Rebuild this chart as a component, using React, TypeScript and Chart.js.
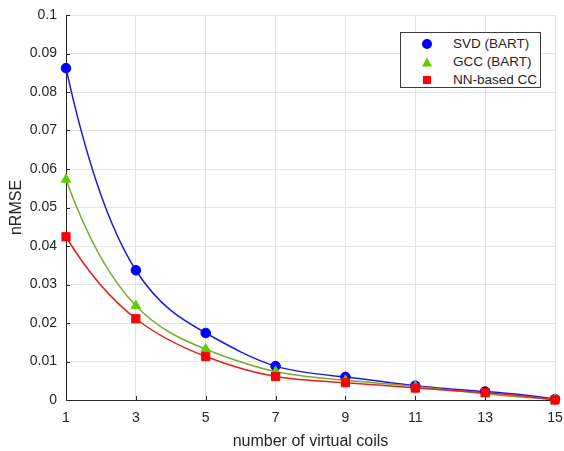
import React, { useEffect, useRef } from "react";
import { Chart, registerables } from "chart.js";

Chart.register(...registerables);

const coils = [1, 3, 5, 7, 9, 11, 13, 15];
const svdBart = [0.0862, 0.0337, 0.0174, 0.0088, 0.006, 0.0037, 0.0022, 0.0002];
const gccBart = [0.0573, 0.0245, 0.0132, 0.0074, 0.0051, 0.0035, 0.0016, 0.0002];
const nnCC = [0.0424, 0.0211, 0.0113, 0.0061, 0.0045, 0.0031, 0.0019, 0.0];
const xTicks = [1, 3, 5, 7, 9, 11, 13, 15];
const yTicks = [0, 0.01, 0.02, 0.03, 0.04, 0.05, 0.06, 0.07, 0.08, 0.09, 0.1];
const seriesNames = ["SVD (BART)", "GCC (BART)", "NN-based CC"];
const lineColors = ["#1a1ae0", "#77ac30", "#e82020"];
const markerColors = ["#0000ff", "#5fcc00", "#ff0000"];

const FONT = "'Liberation Sans', Arial, Helvetica, sans-serif";
const TEXT = "#262626";

// not-a-knot cubic spline second derivatives
function splineM(xs: number[], ys: number[]): number[] {
  const n = xs.length;
  const A: number[][] = [];
  const b: number[] = [];
  for (let r = 0; r < n; r++) { A.push(new Array(n).fill(0)); b.push(0); }
  for (let i = 1; i < n - 1; i++) {
    const h0 = xs[i] - xs[i - 1];
    const h1 = xs[i + 1] - xs[i];
    A[i][i - 1] = h0;
    A[i][i] = 2 * (h0 + h1);
    A[i][i + 1] = h1;
    b[i] = 6 * ((ys[i + 1] - ys[i]) / h1 - (ys[i] - ys[i - 1]) / h0);
  }
  A[0][0] = 1; A[0][1] = -2; A[0][2] = 1; b[0] = 0;
  A[n - 1][n - 3] = 1; A[n - 1][n - 2] = -2; A[n - 1][n - 1] = 1; b[n - 1] = 0;
  for (let c = 0; c < n; c++) {
    let p = c;
    for (let r = c + 1; r < n; r++) if (Math.abs(A[r][c]) > Math.abs(A[p][c])) p = r;
    [A[c], A[p]] = [A[p], A[c]];
    [b[c], b[p]] = [b[p], b[c]];
    for (let r = c + 1; r < n; r++) {
      const f = A[r][c] / A[c][c];
      for (let k = c; k < n; k++) A[r][k] -= f * A[c][k];
      b[r] -= f * b[c];
    }
  }
  const M = new Array(n).fill(0);
  for (let r = n - 1; r >= 0; r--) {
    let s = b[r];
    for (let k = r + 1; k < n; k++) s -= A[r][k] * M[k];
    M[r] = s / A[r][r];
  }
  return M;
}

const splineLines = {
  id: "splineLines",
  beforeDatasetsDraw(chart: any) {
    const { ctx, scales } = chart;
    const sx = scales.x, sy = scales.y;
    const series = [svdBart, gccBart, nnCC];
    ctx.save();
    ctx.lineWidth = 1.5;
    ctx.lineJoin = "round";
    series.forEach((ys, si) => {
      const M = splineM(coils, ys);
      ctx.strokeStyle = lineColors[si];
      ctx.beginPath();
      ctx.moveTo(sx.getPixelForValue(coils[0]), sy.getPixelForValue(ys[0]));
      for (let i = 0; i < coils.length - 1; i++) {
        const h = coils[i + 1] - coils[i];
        const d = (ys[i + 1] - ys[i]) / h;
        const m0 = d - (h * (2 * M[i] + M[i + 1])) / 6;
        const m1 = d + (h * (M[i] + 2 * M[i + 1])) / 6;
        const c1x = coils[i] + h / 3, c1y = ys[i] + (m0 * h) / 3;
        const c2x = coils[i + 1] - h / 3, c2y = ys[i + 1] - (m1 * h) / 3;
        ctx.bezierCurveTo(
          sx.getPixelForValue(c1x), sy.getPixelForValue(c1y),
          sx.getPixelForValue(c2x), sy.getPixelForValue(c2y),
          sx.getPixelForValue(coils[i + 1]), sy.getPixelForValue(ys[i + 1])
        );
      }
      ctx.stroke();
    });
    ctx.restore();
  },
};

const innerTicks = {
  id: "innerTicks",
  afterDatasetsDraw(chart: any) {
    const { ctx, chartArea, scales } = chart;
    ctx.save();
    ctx.strokeStyle = TEXT;
    ctx.lineWidth = 1;
    ctx.beginPath();
    for (const v of xTicks) {
      const x = Math.round(scales.x.getPixelForValue(v)) + 0.5;
      ctx.moveTo(x, chartArea.bottom);
      ctx.lineTo(x, chartArea.bottom - 4);
    }
    for (const v of yTicks) {
      const y = Math.round(scales.y.getPixelForValue(v)) + 0.5;
      ctx.moveTo(chartArea.left, y);
      ctx.lineTo(chartArea.left + 4, y);
    }
    ctx.stroke();
    ctx.restore();
  },
};

function toPts(vals: number[]) {
  return vals.map((v, i) => ({ x: coils[i], y: v }));
}

export default function App() {
  const ref = useRef<HTMLCanvasElement>(null);
  useEffect(() => {
    if (!ref.current) return;
    const styles = ["circle", "triangle", "rect"];
    const radii = [4.8, 5.5, 5.8];
    const all = [svdBart, gccBart, nnCC];
    const chart = new Chart(ref.current, {
      type: "line",
      data: {
        datasets: all.map((vals, i) => ({
          label: seriesNames[i],
          data: toPts(vals),
          showLine: false,
          borderColor: lineColors[i],
          backgroundColor: markerColors[i],
          pointBackgroundColor: markerColors[i],
          pointBorderColor: markerColors[i],
          pointStyle: styles[i],
          pointRadius: radii[i],
          clip: false,
          order: 2 - i,
        })),
      },
      options: {
        animation: false,
        responsive: false,
        maintainAspectRatio: false,
        layout: { padding: { top: 15, right: 9, left: 0, bottom: 0 } },
        plugins: {
          legend: { display: false },
          tooltip: { enabled: false },
        },
        scales: {
          x: {
            type: "linear",
            min: 1,
            max: 15,
            afterBuildTicks: (scale: any) => {
              scale.ticks = xTicks.map((v) => ({ value: v }));
            },
            afterFit: (scale: any) => {
              scale.height = 51;
              scale.paddingLeft = 0;
              scale.paddingRight = 0;
            },
            grid: { color: "#e3e3e3", drawTicks: false, lineWidth: 1 },
            border: { color: TEXT, width: 1 },
            ticks: {
              padding: 10,
              color: TEXT,
              font: { family: FONT, size: 14 },
              maxRotation: 0,
              autoSkip: false,
              callback: (v: any) => String(v),
            },
            title: {
              display: true,
              text: "number of virtual coils",
              color: TEXT,
              font: { family: FONT, size: 16 },
              padding: { top: 0, bottom: 0 },
            },
          },
          y: {
            type: "linear",
            min: 0,
            max: 0.1,
            afterBuildTicks: (scale: any) => {
              scale.ticks = yTicks.map((v) => ({ value: v }));
            },
            afterFit: (scale: any) => {
              scale.width = 66;
              scale.paddingTop = 0;
              scale.paddingBottom = 0;
            },
            grid: { color: "#e3e3e3", drawTicks: false, lineWidth: 1 },
            border: { color: TEXT, width: 1 },
            ticks: {
              padding: 9,
              color: TEXT,
              font: { family: FONT, size: 14 },
              autoSkip: false,
              callback: (v: any) => String(Number(Number(v).toFixed(2))),
            },
            title: {
              display: true,
              text: "nRMSE",
              color: TEXT,
              font: { family: FONT, size: 16 },
              padding: { top: 7, bottom: 0 },
            },
          },
        },
      },
      plugins: [splineLines, innerTicks],
    } as any);
    return () => chart.destroy();
  }, []);

  const markerStyle = (i: number): React.CSSProperties => {
    if (i === 0)
      return { width: 10, height: 10, borderRadius: "50%", background: "#0000ff" };
    if (i === 1)
      return {
        width: 0,
        height: 0,
        borderLeft: "5px solid transparent",
        borderRight: "5px solid transparent",
        borderBottom: "9px solid #5fcc00",
      };
    return { width: 8, height: 8, background: "#ff0000" };
  };

  return (
    <div style={{ position: "fixed", left: 0, top: 0, width: 564, height: 451, background: "#fff" }}>
      <canvas ref={ref} width={564} height={451} style={{ display: "block", width: 564, height: 451 }} />
      <div
        style={{
          position: "absolute",
          left: 400,
          top: 32,
          width: 139,
          height: 54,
          border: "1px solid #3a3a3a",
          background: "#fff",
          fontFamily: FONT,
          fontSize: 13.5,
          color: TEXT,
        }}
      >
        {seriesNames.map((name, i) => (
          <div
            key={name}
            style={{ position: "absolute", left: 0, top: 2 + i * 18, height: 18, width: 139 }}
          >
            <div
              style={{
                position: "absolute",
                left: 26,
                top: 9,
                transform: "translate(-50%, -50%)",
                ...markerStyle(i),
              }}
            />
            <div style={{ position: "absolute", left: 52, top: 1, lineHeight: "16px", whiteSpace: "nowrap" }}>
              {name}
            </div>
          </div>
        ))}
      </div>
    </div>
  );
}
